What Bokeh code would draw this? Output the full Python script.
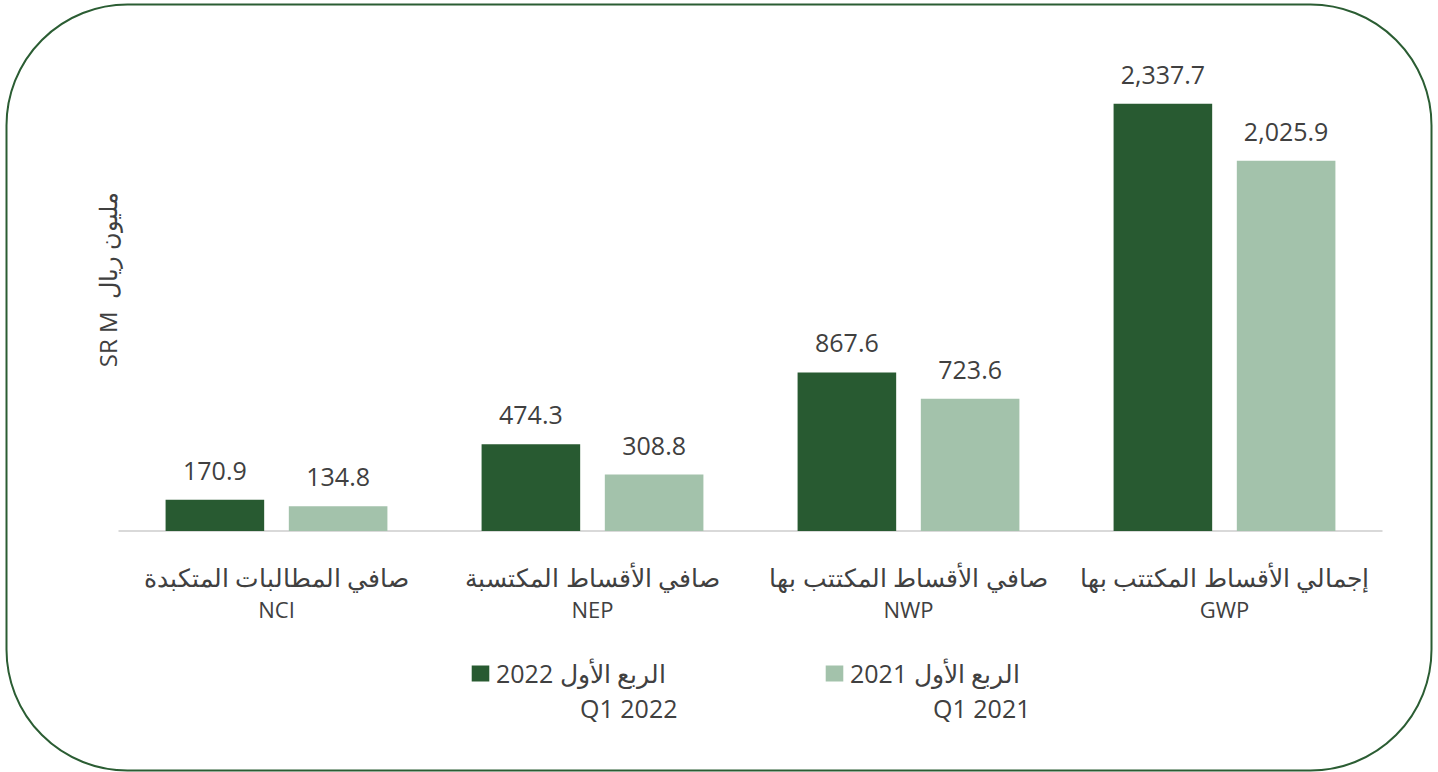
import math
from bokeh.plotting import figure
from bokeh.models import (Range1d, Label, Legend, LegendItem, BoxAnnotation,
                          ColumnDataSource)
from bokeh.transform import dodge
from bokeh.core.properties import value
from bokeh.embed import file_html
from bokeh.resources import INLINE

# ---- data ----
codes = ["NCI", "NEP", "NWP", "GWP"]
names_ar = ["صافي المطالبات المتكبدة", "صافي الأقساط المكتسبة",
            "صافي الأقساط المكتتب بها", "إجمالي الأقساط المكتتب بها"]
q1_2022 = [170.9, 474.3, 867.6, 2337.7]
q1_2021 = [134.8, 308.8, 723.6, 2025.9]
series_ar = ["الربع الأول 2022", "الربع الأول 2021"]
series_en = ["Q1 2022", "Q1 2021"]
y_label = "SR M\u00a0\u00a0مليون ريال"

DARK = "#285a31"
LIGHT = "#a3c2ab"
TXT = "#404040"
FNAME = "Open Sans"
FONT = value(FNAME)

W, H = 1438, 772
src = ColumnDataSource(dict(
    idx=list(range(len(codes))), cat=codes, ar=names_ar,
    v22=q1_2022, v21=q1_2021,
    l22=[f"{v:,.1f}" for v in q1_2022],
    l21=[f"{v:,.1f}" for v in q1_2021],
))

# category slot = 316 px, first slot centre at x=276 px; baseline at y=530.5 px
slot = 316.0
x0 = 276.0
ppu = 0.18275  # pixels per SR M
base = 530.5
p = figure(width=W, height=H,
           x_range=Range1d(-x0 / slot, (W - x0) / slot),
           y_range=Range1d(-(H - base) / ppu, base / ppu),
           output_backend="svg", toolbar_location=None,
           x_axis_location=None, y_axis_location=None,
           min_border_left=0, min_border_right=0,
           min_border_top=0, min_border_bottom=0)
p.grid.visible = False
p.outline_line_color = None

# rounded frame round the whole chart
p.add_layout(BoxAnnotation(left=6, right=1431, top=768, bottom=2,
                           left_units="screen", right_units="screen",
                           top_units="screen", bottom_units="screen",
                           fill_color=None, fill_alpha=0,
                           line_color="#2b5d33", line_alpha=1.0, line_width=2,
                           border_radius=121, level="overlay"))

# category axis line
p.segment(x0=-0.5, x1=len(codes) - 0.5, y0=0, y1=0, line_color="#d9d9d9", line_width=2)

off = 0.195
bw = 0.312
r22 = p.vbar(x=dodge("idx", -off), top="v22", width=bw,
             source=src, fill_color=DARK, line_color=None)
r21 = p.vbar(x=dodge("idx", off), top="v21", width=bw,
             source=src, fill_color=LIGHT, line_color=None)

common = dict(text_font=FONT, text_color=TXT, text_align="center",
              text_baseline="middle")
p.text(x=dodge("idx", -off), y="v22", text="l22", y_offset=-29,
       text_font_size="25px", source=src, **common)
p.text(x=dodge("idx", off), y="v21", text="l21", y_offset=-29,
       text_font_size="25px", source=src, **common)

p.text(x="idx", y=0, text="ar", y_offset=45.5, text_font_size="25px",
       source=src, **common)
p.text(x="idx", y=0, text="cat", y_offset=78, text_font_size="22px",
       source=src, **common)

p.add_layout(Label(x=107, y=H - 279, x_units="screen", y_units="screen",
                   text=y_label, angle=math.pi / 2, text_align="center",
                   text_baseline="middle", text_font=FNAME,
                   text_font_size="24px", text_color=TXT))

# legend
for r, lab, sx in [(r22, series_ar[0], 469), (r21, series_ar[1], 823)]:
    lg = Legend(items=[LegendItem(label=lab, renderers=[r])],
                location=(sx, 82), orientation="horizontal",
                glyph_width=22, glyph_height=20, label_standoff=5,
                padding=0, margin=0, spacing=0, border_line_color=None,
                background_fill_alpha=0, label_text_font=FNAME,
                label_text_font_size="25px", label_text_color=TXT)
    p.add_layout(lg)

for en, ex in [(series_en[0], 677), (series_en[1], 1030)]:
    p.add_layout(Label(x=ex, y=H - 707, x_units="screen", y_units="screen",
                       text=en, text_align="right", text_baseline="middle",
                       text_font=FNAME, text_font_size="25px", text_color=TXT))

open("out.html", "w").write(file_html(p, INLINE))
